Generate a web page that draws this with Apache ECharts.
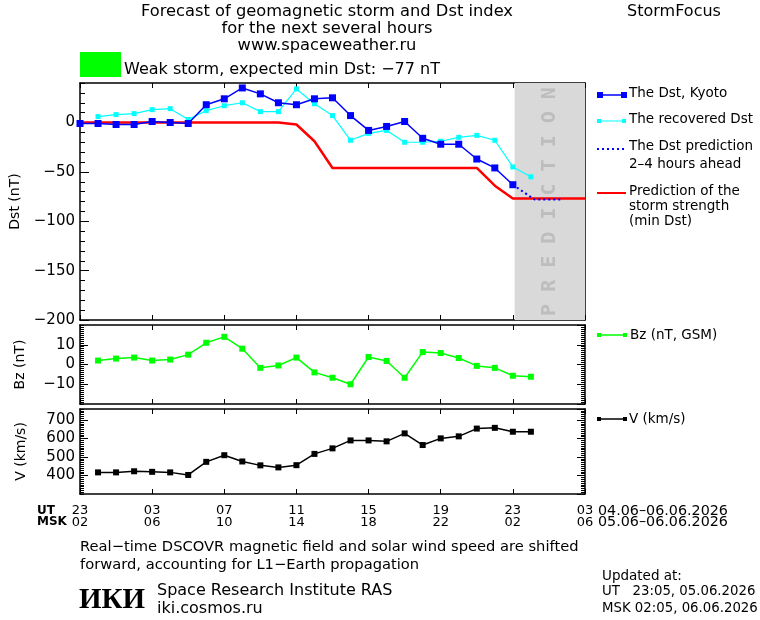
<!DOCTYPE html>
<html><head><meta charset="utf-8">
<script src="https://cdn.jsdelivr.net/npm/echarts@6/dist/echarts.min.js"></script>
<style>html,body{margin:0;padding:0;background:#fff}#c{width:760px;height:620px}</style>
</head><body><div id="c"></div>
<script>
// ---- data (hours counted from 23 UT, 04.06) ----
const kyotoHours = [0,1,2,3,4,5,6,7,8,9,10,11,12,13,14,15,16,17,18,19,20,21,22,23,24];
const dstKyoto   = [-1,-1,-2,-2,1,0,-1,18,24,35,29,20,18,24,25,7,-8,-4,1,-16,-22,-22,-37,-46,-63];
const recoveredHours = [1,2,3,4,5,6,7,8,9,10,11,12,13,14,15,16,17,18,19,20,21,22,23,24,25];
const dstRecovered   = [6,8,9,13,14,3,12,17,20,11,11,34,19,7,-18,-11,-8,-20,-20,-19,-15,-13,-18,-45,-55];
const predHours = [24,25.2,26.8];
const dstPred   = [-63,-78,-78];
const minDstHours = [0,11,12,13,14,22,23,24,28];
const minDst      = [0,0,-2,-19,-46,-46,-64,-77,-77];
const swHours = [1,2,3,4,5,6,7,8,9,10,11,12,13,14,15,16,17,18,19,20,21,22,23,24,25];
const bz = [2,3,3.5,2,2.5,5,11,14,8,-1.7,-0.5,3.5,-4,-6.7,-10,3.8,1.8,-6.7,6.3,5.8,3.3,-0.7,-1.7,-5.7,-6.2];
const speed = [417,417,423,420,417,403,474,510,476,455,444,456,517,547,590,590,585,628,565,601,612,654,658,637,637];
const predictionStart = 24.1, predictionEnd = 28;
const utLabels  = ['23','03','07','11','15','19','23','03'];
const mskLabels = ['02','06','10','14','18','22','02','06'];

const zip = (xs, ys) => xs.map((x, i) => [x, ys[i]]);
const FONT = 'DejaVu Sans';
const minus = v => String(v).replace('-', '\u2212');

function xAx(grid, pos, labels) {
  return {
    type: 'value', gridIndex: grid, position: pos, min: 0, max: 28, interval: 4,
    axisLine: { show: true, onZero: false, lineStyle: { color: '#000', width: 1.5 } },
    axisTick: { show: true, inside: true, length: 5, lineStyle: { color: '#000' } },
    splitLine: { show: false },
    axisLabel: labels ? {
      show: true, margin: 11, color: '#000', fontFamily: FONT, fontSize: 13, lineHeight: 12,
      formatter: v => utLabels[Math.round(v / 4)] + '\n' + mskLabels[Math.round(v / 4)]
    } : { show: false }
  };
}
function yAx(grid, pos, min, max, interval, opt) {
  opt = opt || {};
  return {
    type: 'value', gridIndex: grid, position: pos, min: min, max: max, interval: interval,
    axisLine: { show: !!opt.line, onZero: false, lineStyle: { color: '#000', width: 1.5 } },
    axisTick: { show: opt.tick !== 0, inside: true, length: opt.tick || 4, lineStyle: { color: '#000' } },
    splitLine: { show: false },
    axisLabel: opt.labels ? { show: true, margin: 5, color: '#000', fontFamily: FONT, fontSize: 15,
      showMinLabel: opt.showMin, showMaxLabel: false, formatter: minus } : { show: false },
    name: opt.name || '', nameLocation: 'middle', nameRotate: 90, nameGap: opt.nameGap || 50,
    nameTextStyle: { color: '#000', fontFamily: FONT, fontSize: 14 }
  };
}

const grids = [
  { left: 80, top: 83, width: 505, height: 237 },
  { left: 80, top: 325, width: 505, height: 79 },
  { left: 80, top: 409, width: 505, height: 85 }
];

const xAxis = [xAx(0,'bottom'), xAx(0,'top'), xAx(1,'bottom'), xAx(1,'top'), xAx(2,'bottom', true), xAx(2,'top')];
const yAxis = [
  yAx(0,'left',-200,40,50,{line:true,tick:9,labels:true,showMin:true,name:'Dst (nT)',nameGap:58}),
  yAx(0,'left',-200,40,10,{tick:5}),
  yAx(0,'right',-200,40,50,{line:true,tick:0}),
  yAx(1,'left',-20,20,10,{line:true,tick:8,labels:true,showMin:false,name:'Bz (nT)',nameGap:53}),
  yAx(1,'left',-20,20,1,{tick:4}),
  yAx(1,'right',-20,20,10,{line:true,tick:8}),
  yAx(1,'right',-20,20,1,{tick:4}),
  yAx(2,'left',300,760,100,{line:true,tick:8,labels:true,showMin:false,name:'V (km/s)',nameGap:52}),
  yAx(2,'left',300,760,10,{tick:4}),
  yAx(2,'right',300,760,100,{line:true,tick:8}),
  yAx(2,'right',300,760,10,{tick:4})
];

const series = [
  { type: 'line', xAxisIndex: 0, yAxisIndex: 0, data: [], z: 1, silent: true,
    markArea: { silent: true, itemStyle: { color: '#d9d9d9' },
      label: { show: true, position: 'inside', rotate: 90, formatter: 'P R E D I C T I O N',
        color: '#bdbdbd', fontFamily: 'DejaVu Sans Mono', fontWeight: 'bold', fontSize: 20 },
      data: [[{ xAxis: predictionStart }, { xAxis: predictionEnd }]] } },
  { type: 'line', xAxisIndex: 0, yAxisIndex: 0, data: zip(minDstHours, minDst), z: 3,
    symbol: 'none', lineStyle: { color: '#ff0000', width: 2.5 } },
  { type: 'line', xAxisIndex: 0, yAxisIndex: 0, data: zip(predHours, dstPred), z: 4,
    symbol: 'none', lineStyle: { color: '#0000ff', width: 2, type: [2, 3] } },
  { type: 'line', xAxisIndex: 0, yAxisIndex: 0, data: zip(recoveredHours, dstRecovered), z: 5,
    symbol: 'rect', symbolSize: 5, itemStyle: { color: '#00ffff' }, lineStyle: { color: '#00ffff', width: 1.2 } },
  { type: 'line', xAxisIndex: 0, yAxisIndex: 0, data: zip(kyotoHours, dstKyoto), z: 6,
    symbol: 'rect', symbolSize: 7, itemStyle: { color: '#0000ff' }, lineStyle: { color: '#0000ff', width: 1.5 } },
  { type: 'line', xAxisIndex: 2, yAxisIndex: 3, data: zip(swHours, bz), z: 5,
    symbol: 'rect', symbolSize: 6, itemStyle: { color: '#00ff00' }, lineStyle: { color: '#00ff00', width: 1.5 } },
  { type: 'line', xAxisIndex: 4, yAxisIndex: 7, data: zip(swHours, speed), z: 5,
    symbol: 'rect', symbolSize: 6, itemStyle: { color: '#000' }, lineStyle: { color: '#000', width: 1.5 } }
];
series.forEach(s => { s.animation = false; s.emphasis = { disabled: true }; });

function T(text, x, y, o) {
  o = o || {};
  return { type: 'text', silent: true, x: x, y: y, style: {
    text: text, fill: o.color || '#000', fontFamily: o.font || FONT, fontSize: o.size || 14,
    fontWeight: o.weight || 'normal', align: o.align || 'left', verticalAlign: 'middle' } };
}
function L(x1, y1, x2, y2, color, w, dash) {
  return { type: 'line', silent: true, shape: { x1, y1, x2, y2 },
    style: { stroke: color, lineWidth: w, lineDash: dash || null } };
}
function R(x, y, w, h, color) {
  return { type: 'rect', silent: true, shape: { x, y, width: w, height: h }, style: { fill: color } };
}

const graphic = [
  T('Forecast of geomagnetic storm and Dst index', 327, 12, { size: 16.3, align: 'center' }),
  T('for the next several hours', 327, 29, { size: 16.3, align: 'center' }),
  T('www.spaceweather.ru', 327, 46, { size: 16.3, align: 'center' }),
  T('StormFocus', 674, 12, { size: 16, align: 'center' }),
  R(80, 52, 41, 25, '#00ff00'),
  T('Weak storm, expected min Dst: \u221277 nT', 124, 70, { size: 16 }),
  // legend
  L(599, 95, 624, 95, '#0000ff', 1.5), R(597, 92, 6, 6, '#0000ff'), R(621, 92, 6, 6, '#0000ff'),
  T('The Dst, Kyoto', 629, 93, { size: 13.5 }),
  L(599, 121, 624, 121, '#00ffff', 1), R(597, 119, 4, 4, '#00ffff'), R(622, 119, 4, 4, '#00ffff'),
  T('The recovered Dst', 629, 119, { size: 13.5 }),
  L(597, 149, 624, 149, '#0000ff', 2, [2, 3]),
  T('The Dst prediction', 629, 146, { size: 13.5 }),
  T('2\u20134 hours ahead', 629, 164, { size: 13.5 }),
  L(597, 193, 626, 193, '#ff0000', 2),
  T('Prediction of the', 629, 191, { size: 13.5 }),
  T('storm strength', 629, 206, { size: 13.5 }),
  T('(min Dst)', 629, 221, { size: 13.5 }),
  L(599, 335, 624, 335, '#00ff00', 1.5), R(597, 333, 4, 4, '#00ff00'), R(623, 333, 4, 4, '#00ff00'),
  T('Bz (nT, GSM)', 630, 335, { size: 13.5 }),
  L(599, 419, 624, 419, '#000', 1.5), R(597, 417, 4, 4, '#000'), R(623, 417, 4, 4, '#000'),
  T('V (km/s)', 629, 419, { size: 13.5 }),
  // x-axis side labels
  T('UT', 37, 511, { size: 12, weight: 'bold' }),
  T('MSK', 37, 522, { size: 12, weight: 'bold' }),
  T('04.06\u201306.06.2026', 598, 511, { size: 14.3 }),
  T('05.06\u201306.06.2026', 598, 522, { size: 14.3 }),
  // bottom texts
  T('Real\u2212time DSCOVR magnetic field and solar wind speed are shifted', 80, 547, { size: 14.7 }),
  T('forward, accounting for L1\u2212Earth propagation', 80, 565, { size: 14.7 }),
  T('\u0418\u041A\u0418', 79, 601, { size: 29, weight: 'bold', font: 'Liberation Serif' }),
  T('Space Research Institute RAS', 157, 591, { size: 16 }),
  T('iki.cosmos.ru', 157, 609, { size: 16 }),
  T('Updated at:', 602, 576, { size: 13.5 }),
  T('UT   23:05, 05.06.2026', 602, 592, { size: 13.3 }),
  T('MSK 02:05, 06.06.2026', 602, 609, { size: 13.3 })
];

const chart = echarts.init(document.getElementById('c'), null, { renderer: 'canvas' });
chart.setOption({
  animation: false, backgroundColor: '#fff',
  grid: grids, xAxis: xAxis, yAxis: yAxis, series: series, graphic: graphic
});
</script></body></html>
